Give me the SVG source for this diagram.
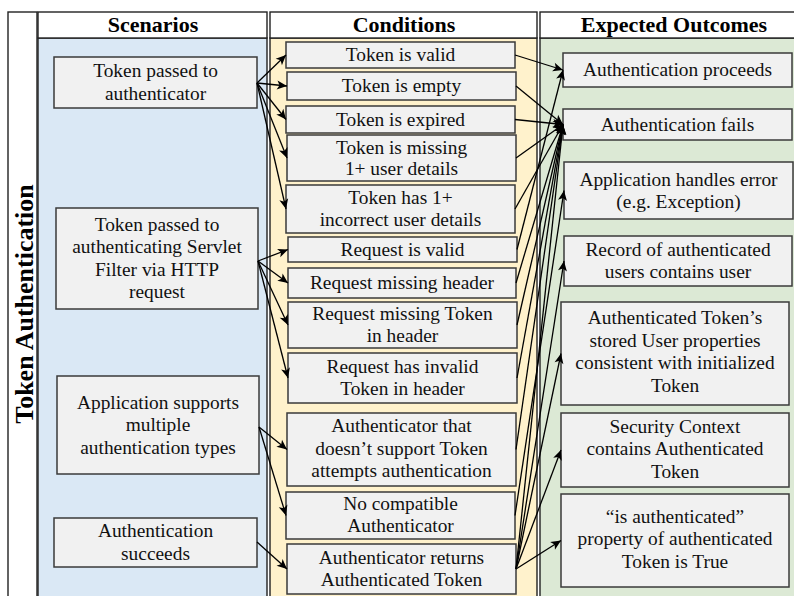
<svg xmlns="http://www.w3.org/2000/svg" width="794" height="596" viewBox="0 0 794 596" font-family="'Liberation Serif', 'DejaVu Serif', 'Times New Roman', serif">
  <style>
    .hdr { fill: #ffffff; stroke: #222; stroke-width: 1.4; }
    .body { stroke: #222; stroke-width: 1.4; }
    .node rect { fill: #f1f1f1; stroke: #3a3a3a; stroke-width: 1.5; }
    .node text { font-size: 19.4px; fill: #111; text-anchor: middle; }
    .htext { font-size: 22px; font-weight: bold; fill: #000; text-anchor: middle; }
    .edge { fill: none; stroke: #000; stroke-width: 1.3; marker-end: url(#arrow); }
  </style>
  <defs>
    <marker id="arrow" markerUnits="userSpaceOnUse" markerWidth="12" markerHeight="10" refX="10" refY="5" orient="auto" overflow="visible">
      <path d="M0,0.5 L10,5 L0,9.5 L2.5,5 Z" fill="#000"/>
    </marker>
  </defs>

  <rect width="794" height="596" fill="#ffffff"/>

  <!-- swimlane frame -->
  <g id="lanes">
    <rect x="8" y="12" width="29" height="600" fill="#ffffff" stroke="#222" stroke-width="1.4"/>
    <text class="htext" transform="translate(33,304) rotate(-90)" style="font-size:26px">Token Authentication</text>

    <rect class="body" x="38" y="38" width="229" height="570" fill="#dae8f5"/>
    <rect class="hdr" x="38" y="12" width="229" height="26"/>
    <text class="htext" x="153" y="32">Scenarios</text>

    <rect class="body" x="270" y="38" width="267" height="570" fill="#fff2cc"/>
    <rect class="hdr" x="270" y="12" width="267" height="26"/>
    <text class="htext" x="404" y="32">Conditions</text>

    <rect class="body" x="540" y="38" width="270" height="570" fill="#dce9d5"/>
    <rect class="hdr" x="540" y="12" width="270" height="26"/>
    <text class="htext" x="674" y="32">Expected Outcomes</text>
  </g>

  <!-- scenarios -->
  <g id="s1" class="node"><rect x="54" y="57" width="203" height="51"/>
    <text x="155.5"><tspan x="155.5" y="77">Token passed to</tspan><tspan x="155.5" y="99.5">authenticator</tspan></text></g>
  <g id="s2" class="node"><rect x="56" y="208" width="202" height="101"/>
    <text x="157"><tspan x="157" y="230.5">Token passed to</tspan><tspan x="157" y="253">authenticating Servlet</tspan><tspan x="157" y="275.5">Filter via HTTP</tspan><tspan x="157" y="298">request</tspan></text></g>
  <g id="s3" class="node"><rect x="57" y="376" width="202" height="98"/>
    <text x="158"><tspan x="158" y="408.5">Application supports</tspan><tspan x="158" y="431">multiple</tspan><tspan x="158" y="453.5">authentication types</tspan></text></g>
  <g id="s4" class="node"><rect x="54" y="518" width="203" height="49"/>
    <text x="155.5"><tspan x="155.5" y="537">Authentication</tspan><tspan x="155.5" y="559.5">succeeds</tspan></text></g>

  <!-- conditions -->
  <g id="c1" class="node"><rect x="286" y="42" width="229" height="26"/>
    <text x="400.5" y="61">Token is valid</text></g>
  <g id="c2" class="node"><rect x="287" y="72" width="229" height="28"/>
    <text x="401.5" y="92">Token is empty</text></g>
  <g id="c3" class="node"><rect x="286" y="106" width="229" height="27"/>
    <text x="400.5" y="125.5">Token is expired</text></g>
  <g id="c4" class="node"><rect x="287" y="135" width="229" height="46"/>
    <text x="401.5"><tspan x="401.5" y="153.5">Token is missing</tspan><tspan x="401.5" y="175">1+ user details</tspan></text></g>
  <g id="c5" class="node"><rect x="286" y="185" width="229" height="48"/>
    <text x="400.5"><tspan x="400.5" y="203.5">Token has 1+</tspan><tspan x="400.5" y="226">incorrect user details</tspan></text></g>
  <g id="c6" class="node"><rect x="288" y="237" width="229" height="25"/>
    <text x="402.5" y="255.5">Request is valid</text></g>
  <g id="c7" class="node"><rect x="288" y="268" width="228" height="30"/>
    <text x="402" y="289">Request missing header</text></g>
  <g id="c8" class="node"><rect x="288" y="302" width="229" height="46"/>
    <text x="402.5"><tspan x="402.5" y="320">Request missing Token</tspan><tspan x="402.5" y="342">in header</tspan></text></g>
  <g id="c9" class="node"><rect x="288" y="353" width="229" height="50"/>
    <text x="402.5"><tspan x="402.5" y="372.5">Request has invalid</tspan><tspan x="402.5" y="395">Token in header</tspan></text></g>
  <g id="c10" class="node"><rect x="287" y="413" width="229" height="73"/>
    <text x="401.5"><tspan x="401.5" y="432">Authenticator that</tspan><tspan x="401.5" y="454.5">doesn’t support Token</tspan><tspan x="401.5" y="477">attempts authentication</tspan></text></g>
  <g id="c11" class="node"><rect x="286" y="492" width="229" height="47"/>
    <text x="400.5"><tspan x="400.5" y="509.5">No compatible</tspan><tspan x="400.5" y="532">Authenticator</tspan></text></g>
  <g id="c12" class="node"><rect x="287" y="544" width="229" height="50"/>
    <text x="401.5"><tspan x="401.5" y="563.5">Authenticator returns</tspan><tspan x="401.5" y="586">Authenticated Token</tspan></text></g>

  <!-- outcomes -->
  <g id="o1" class="node"><rect x="563" y="53" width="229" height="34"/>
    <text x="677.5" y="75.5">Authentication proceeds</text></g>
  <g id="o2" class="node"><rect x="563" y="109" width="229" height="31"/>
    <text x="677.5" y="130.5">Authentication fails</text></g>
  <g id="o3" class="node"><rect x="564" y="162" width="229" height="57"/>
    <text x="678.5"><tspan x="678.5" y="185.5">Application handles error</tspan><tspan x="678.5" y="208">(e.g. Exception)</tspan></text></g>
  <g id="o4" class="node"><rect x="564" y="236" width="228" height="50"/>
    <text x="678"><tspan x="678" y="255.5">Record of authenticated</tspan><tspan x="678" y="278">users contains user</tspan></text></g>
  <g id="o5" class="node"><rect x="561" y="302" width="228" height="103"/>
    <text x="675"><tspan x="675" y="324">Authenticated Token’s</tspan><tspan x="675" y="346.5">stored User properties</tspan><tspan x="675" y="369">consistent with initialized</tspan><tspan x="675" y="391.5">Token</tspan></text></g>
  <g id="o6" class="node"><rect x="561" y="413" width="228" height="74"/>
    <text x="675"><tspan x="675" y="432.5">Security Context</tspan><tspan x="675" y="455">contains Authenticated</tspan><tspan x="675" y="477.5">Token</tspan></text></g>
  <g id="o7" class="node"><rect x="561" y="494" width="228" height="93"/>
    <text x="675"><tspan x="675" y="522.5">“is authenticated”</tspan><tspan x="675" y="545">property of authenticated</tspan><tspan x="675" y="567.5">Token is True</tspan></text></g>

  <!-- connectors -->
  <g id="connectors">
    <!-- scenarios to conditions -->
    <line class="edge" x1="257" y1="83" x2="286" y2="55"/>
    <line class="edge" x1="257" y1="83" x2="287" y2="86"/>
    <line class="edge" x1="257" y1="83" x2="286" y2="119.5"/>
    <line class="edge" x1="257" y1="83" x2="287" y2="158"/>
    <line class="edge" x1="257" y1="83" x2="286" y2="209"/>
    <line class="edge" x1="258" y1="261" x2="288" y2="249.5"/>
    <line class="edge" x1="258" y1="261" x2="288" y2="283"/>
    <line class="edge" x1="258" y1="261" x2="288" y2="325"/>
    <line class="edge" x1="258" y1="261" x2="288" y2="378"/>
    <line class="edge" x1="259" y1="427" x2="287" y2="449.5"/>
    <line class="edge" x1="259" y1="427" x2="286" y2="515.5"/>
    <line class="edge" x1="257" y1="542" x2="287" y2="569"/>
    <!-- conditions to outcomes -->
    <line class="edge" x1="515" y1="55" x2="563" y2="70"/>
    <line class="edge" x1="516" y1="86" x2="563" y2="124.5"/>
    <line class="edge" x1="515" y1="119.5" x2="563" y2="124.5"/>
    <line class="edge" x1="516" y1="158" x2="563" y2="124.5"/>
    <line class="edge" x1="515" y1="209" x2="563" y2="124.5"/>
    <line class="edge" x1="517" y1="249.5" x2="563" y2="70"/>
    <line class="edge" x1="516" y1="283" x2="563" y2="124.5"/>
    <line class="edge" x1="517" y1="325" x2="563" y2="124.5"/>
    <line class="edge" x1="517" y1="378" x2="563" y2="124.5"/>
    <line class="edge" x1="516" y1="449.5" x2="563" y2="124.5"/>
    <line class="edge" x1="515" y1="515.5" x2="564" y2="190.5"/>
    <line class="edge" x1="516" y1="569" x2="563" y2="124.5"/>
    <line class="edge" x1="516" y1="569" x2="564" y2="261"/>
    <line class="edge" x1="516" y1="569" x2="561" y2="353.5"/>
    <line class="edge" x1="516" y1="569" x2="561" y2="450"/>
    <line class="edge" x1="516" y1="569" x2="561" y2="540.5"/>
  </g>
</svg>
